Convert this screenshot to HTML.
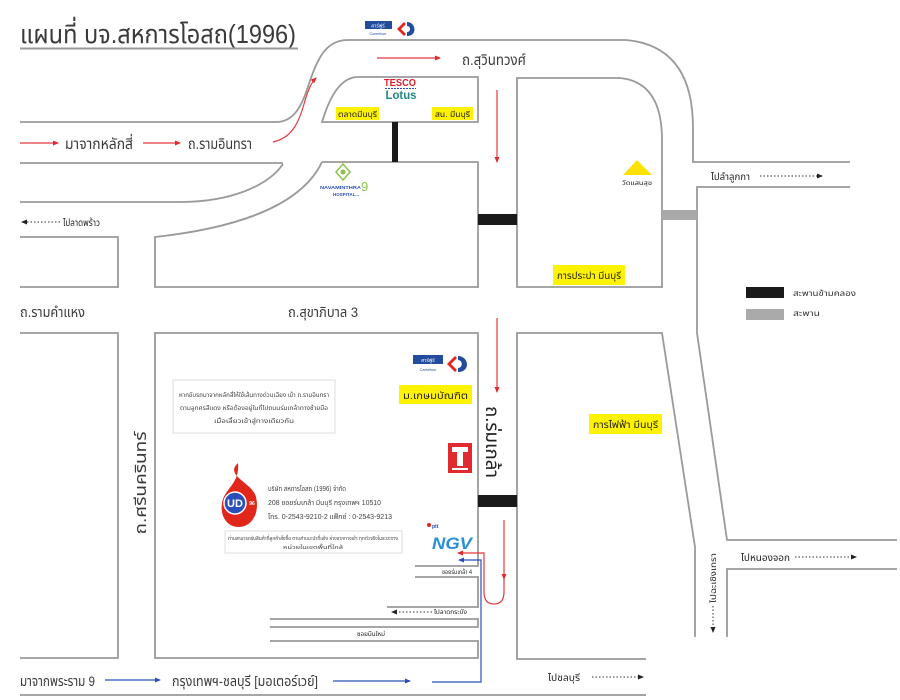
<!DOCTYPE html>
<html><head><meta charset="utf-8"><style>
html,body{margin:0;padding:0;background:#fff;}
svg{display:block;}
text{font-family:"Liberation Sans","DejaVu Sans","Noto Sans Thai","Loma","Garuda","Noto Sans CJK SC",sans-serif;}
</style></head><body>
<svg width="900" height="700" viewBox="0 0 900 700" xmlns="http://www.w3.org/2000/svg">
<defs>
<marker id="ar" markerWidth="6" markerHeight="6" refX="5" refY="3" orient="auto" markerUnits="userSpaceOnUse"><path d="M0,0.5 L6,3 L0,5.5Z" fill="#e5262f"/></marker>
<marker id="ab" markerWidth="6" markerHeight="6" refX="5" refY="3" orient="auto" markerUnits="userSpaceOnUse"><path d="M0,0.5 L6,3 L0,5.5Z" fill="#2b4fb8"/></marker>
<marker id="ak" markerWidth="6" markerHeight="6" refX="5" refY="3" orient="auto" markerUnits="userSpaceOnUse"><path d="M0,0.5 L6,3 L0,5.5Z" fill="#222"/></marker>
</defs>
<rect width="900" height="700" fill="#fff"/>

<!-- Title -->
<text x="20" y="43" font-size="26" fill="#3a3a3a" textLength="276" lengthAdjust="spacingAndGlyphs">แผนที่ บจ.สหการโอสถ(1996)</text>
<line x1="20" y1="48.5" x2="298" y2="48.5" stroke="#9a9a9a" stroke-width="2"/>

<g stroke="#9a9a9a" stroke-width="1.8" fill="none">
<path d="M20,122 L276,122 C298,122 304,98 311,78 C319,55 328,40 348,40 L626,40 Q693,46 693,128 L693,162 L850,162"/>
<path d="M322,122 C330,96 340,79 356,77 L478,77 L478,122 Z"/>
<path d="M517,287 L517,78 L620,78 Q662,82 662,140 L662,287 Z"/>
<path d="M850,187 L697,187 L697,333 L727,540 L897,540"/>
<path d="M897,569 L727,569 L727,637"/>
<path d="M646,659 L517,659 L517,333 L662,333 L695,547 L695,637"/>
<path d="M20,163 L283,163"/>
<path d="M20,202 L180,202 C230,202 268,186 283,164"/>
<path d="M322,162 L478,162 L478,287 L155,287 L155,237 C255,226 305,198 322,162"/>
<path d="M20,237 L118,237 L118,287 L20,287"/>
<path d="M20,333 L118,333 L118,658 L20,658"/>
<path d="M415,566 L478,566 L478,333 L155,333 L155,658 L478,658 L478,641 L270,641"/>
<path d="M415,577 L478,577 L478,607 L387,607"/>
<path d="M270,619 L478,619 L478,627 L270,627"/>
<path d="M20,695 L646,695"/>
</g>

<!-- bridges -->
<rect x="392" y="122" width="6" height="40" fill="#1a1a1a"/>
<rect x="478" y="214" width="39" height="11" fill="#1a1a1a"/>
<rect x="478" y="495" width="39" height="12" fill="#1a1a1a"/>
<rect x="662" y="210" width="35" height="10" fill="#a9a9a9"/>

<!-- legend -->
<rect x="746" y="287" width="38" height="11" fill="#1a1a1a"/>
<rect x="746" y="309" width="38" height="11" fill="#aaaaaa"/>
<text x="793" y="296" font-size="8" fill="#333" textLength="63" lengthAdjust="spacingAndGlyphs">สะพานข้ามคลอง</text>
<text x="793" y="316" font-size="8" fill="#333" textLength="27" lengthAdjust="spacingAndGlyphs">สะพาน</text>

<!-- red arrows -->
<g stroke="#e5383d" stroke-width="1.2" fill="none">
<line x1="20" y1="143" x2="58" y2="143" marker-end="url(#ar)"/>
<line x1="143" y1="143" x2="180" y2="143" marker-end="url(#ar)"/>
<path d="M273,142 C292,138 299,122 304,104 C308,90 311,83 316,78" marker-end="url(#ar)"/>
<line x1="377" y1="58" x2="440" y2="58" marker-end="url(#ar)"/>
<line x1="497" y1="90" x2="497" y2="162" marker-end="url(#ar)"/>
<line x1="497" y1="318" x2="497" y2="392" marker-end="url(#ar)"/>
<line x1="504" y1="520" x2="504" y2="579" marker-end="url(#ar)"/>
<path d="M504,579 L504,592 Q504,604 494,604 Q484,604 484,592 L484,553 L458,553" marker-end="url(#ar)"/>
</g>

<!-- blue route -->
<g stroke="#2b4fb8" stroke-width="1.2" fill="none">
<path d="M432,682 L481,682 L481,560 L459,560" marker-end="url(#ab)"/>
<line x1="105" y1="680" x2="160" y2="680" marker-end="url(#ab)"/>
<line x1="333" y1="681" x2="410" y2="681" marker-end="url(#ab)"/>
</g>

<!-- dotted black arrows -->
<g stroke="#333" stroke-width="1" stroke-dasharray="1.5,2" fill="none">
<line x1="60" y1="222" x2="22" y2="222" marker-end="url(#ak)"/>
<line x1="760" y1="176" x2="822" y2="176" marker-end="url(#ak)"/>
<line x1="795" y1="557" x2="856" y2="557" marker-end="url(#ak)"/>
<line x1="713" y1="606" x2="713" y2="632" marker-end="url(#ak)"/>
<line x1="432" y1="612" x2="392" y2="612" marker-end="url(#ak)"/>
<line x1="592" y1="677" x2="643" y2="677" marker-end="url(#ak)"/>
</g>

<!-- road labels -->
<g fill="#3a3a3a">
<text x="65" y="149" font-size="15" textLength="68" lengthAdjust="spacingAndGlyphs">มาจากหลักสี่</text>
<text x="188" y="149" font-size="15" textLength="64" lengthAdjust="spacingAndGlyphs">ถ.รามอินทรา</text>
<text x="462" y="65" font-size="15" textLength="64" lengthAdjust="spacingAndGlyphs">ถ.สุวินทวงศ์</text>
<text x="20" y="317" font-size="14" textLength="65" lengthAdjust="spacingAndGlyphs">ถ.รามคำแหง</text>
<text x="288" y="317" font-size="14" textLength="70" lengthAdjust="spacingAndGlyphs">ถ.สุขาภิบาล 3</text>
<text x="20" y="686" font-size="14" textLength="75" lengthAdjust="spacingAndGlyphs">มาจากพระราม 9</text>
<text x="172" y="686" font-size="14" textLength="146" lengthAdjust="spacingAndGlyphs">กรุงเทพฯ-ชลบุรี [มอเตอร์เวย์]</text>
<text transform="translate(146,483) rotate(-90)" text-anchor="middle" font-size="16" textLength="103" lengthAdjust="spacingAndGlyphs">ถ.ศรีนครินทร์</text>
<text transform="translate(486,442) rotate(90)" text-anchor="middle" font-size="19" fill="#222" textLength="72" lengthAdjust="spacingAndGlyphs">ถ.ร่มเกล้า</text>
</g>
<g fill="#222">
<text x="63" y="226" font-size="10" textLength="37" lengthAdjust="spacingAndGlyphs">ไปลาดพร้าว</text>
<text x="711" y="180" font-size="10" textLength="39" lengthAdjust="spacingAndGlyphs">ไปลำลูกกา</text>
<text x="741" y="561" font-size="10" textLength="49" lengthAdjust="spacingAndGlyphs">ไปหนองจอก</text>
<text x="548" y="681" font-size="10" textLength="32" lengthAdjust="spacingAndGlyphs">ไปชลบุรี</text>
<text transform="translate(716,578) rotate(-90)" text-anchor="middle" font-size="8" textLength="50" lengthAdjust="spacingAndGlyphs">ไปฉะเชิงเทรา</text>
<text x="434" y="614" font-size="6" textLength="33" lengthAdjust="spacingAndGlyphs">ไปลาดกระบัง</text>
<text x="442" y="574" font-size="6" textLength="30" lengthAdjust="spacingAndGlyphs">ซอยร่มเกล้า 4</text>
<text x="357" y="636" font-size="6" textLength="28" lengthAdjust="spacingAndGlyphs">ซอยมีนใหม่</text>
</g>

<!-- yellow labels -->
<rect x="336" y="107" width="43" height="13" fill="#fff200"/>
<text x="338" y="117" font-size="8" fill="#222" textLength="39" lengthAdjust="spacingAndGlyphs">ตลาดมีนบุรี</text>
<rect x="432" y="107" width="41" height="13" fill="#fff200"/>
<text x="435" y="117" font-size="8" fill="#222" textLength="35" lengthAdjust="spacingAndGlyphs">สน. มีนบุรี</text>
<rect x="553" y="265" width="72" height="20" fill="#fff200"/>
<text x="557" y="279" font-size="10" fill="#222" textLength="64" lengthAdjust="spacingAndGlyphs">การประปา มีนบุรี</text>
<rect x="399" y="385" width="73" height="19" fill="#fff200"/>
<text x="403" y="399" font-size="10" fill="#222" textLength="65" lengthAdjust="spacingAndGlyphs">ม.เกษมบัณฑิต</text>
<rect x="589" y="414" width="73" height="20" fill="#fff200"/>
<text x="593" y="428" font-size="10" fill="#222" textLength="65" lengthAdjust="spacingAndGlyphs">การไฟฟ้า มีนบุรี</text>

<!-- Carrefour top -->
<rect x="365" y="21" width="27" height="8" fill="#234c9c"/>
<text x="378" y="27.5" font-size="5" fill="#fff" text-anchor="middle">คาร์ฟูร์</text>
<text x="378" y="35" font-size="4" fill="#234c9c" text-anchor="middle">Carrefour</text>
<path d="M404,22 L397,29 L404,36 L406,34 L401,29 L406,24 Z" fill="#e1261c"/>
<path d="M407,22 C416,22 418,36 407,36 L407,32 C411,32 411,26 407,26 Z" fill="#234c9c"/>
<!-- Carrefour lower -->
<rect x="413" y="355" width="30" height="9" fill="#234c9c"/>
<text x="428" y="362" font-size="5" fill="#fff" text-anchor="middle">คาร์ฟูร์</text>
<text x="428" y="371" font-size="4" fill="#234c9c" text-anchor="middle">Carrefour</text>
<path d="M455,356 L447,364 L455,372 L457,370 L451,364 L457,358 Z" fill="#e1261c"/>
<path d="M458,356 C469,356 471,372 458,372 L458,368 C463,368 463,360 458,360 Z" fill="#234c9c"/>

<!-- Tesco Lotus -->
<text x="400" y="86" font-size="10" font-weight="bold" fill="#d8202a" text-anchor="middle" font-family="Liberation Serif, serif" textLength="32" lengthAdjust="spacingAndGlyphs">TESCO</text>
<line x1="385" y1="88.5" x2="416" y2="88.5" stroke="#2b4fb8" stroke-width="1" stroke-dasharray="2,1"/>
<text x="401" y="99" font-size="12" font-weight="bold" fill="#1f8a8a" text-anchor="middle" font-family="Liberation Serif, serif" textLength="31" lengthAdjust="spacingAndGlyphs">Lotus</text>

<!-- Navamindra -->
<path d="M343,164 L350,172 L343,180 L336,172 Z" fill="none" stroke="#8bc34a" stroke-width="1.5"/>
<circle cx="343" cy="172" r="2.5" fill="#8bc34a"/>
<text x="320" y="189" font-size="4.5" font-weight="bold" fill="#2b4fb8" textLength="41" lengthAdjust="spacingAndGlyphs">NAVAMINTHRA</text>
<text x="361" y="191" font-size="13" fill="#8bc34a">9</text>
<text x="333" y="196" font-size="4.5" font-weight="bold" fill="#2b4fb8">HOSPITAL...</text>

<!-- temple triangle -->
<polygon points="637,160 623,175 652,175" fill="#ffe100"/>
<text x="622" y="185" font-size="6" fill="#222" textLength="30" lengthAdjust="spacingAndGlyphs">วัดแสนสุข</text>

<!-- Isuzu -->
<rect x="448" y="443" width="24" height="30" fill="#e12a2f"/>
<path d="M452,447 L468,447 L468,452 L463,452 L463,466 L457,466 L457,452 L452,452 Z" fill="#fff"/>
<rect x="452" y="468" width="16" height="2" fill="#fff"/>

<!-- PTT NGV -->
<circle cx="429" cy="525" r="2" fill="#e1261c"/>
<text x="432" y="528" font-size="5" fill="#2b4fb8" font-weight="bold">ptt</text>
<text x="432" y="549" font-size="17" font-weight="bold" font-style="italic" fill="#2a8fd6" textLength="40" lengthAdjust="spacingAndGlyphs">NGV</text>

<!-- note box -->
<rect x="173" y="380" width="162" height="53" fill="#fff" stroke="#dddddd" stroke-width="1"/>
<g font-size="6" fill="#444" text-anchor="middle">
<text x="254" y="397" textLength="150" lengthAdjust="spacingAndGlyphs">หากขับรถมาจากหลักสี่ให้ใช้เส้นทางด่วนเฉียง เข้า ถ.รามอินทรา</text>
<text x="254" y="410" textLength="148" lengthAdjust="spacingAndGlyphs">ตามลูกศรสีแดง หรือต้องอยู่ในที่ไปถนนร่มเกล้าทางซ้ายมือ</text>
<text x="254" y="423" textLength="80" lengthAdjust="spacingAndGlyphs">เมื่อเลี้ยวเข้าสู่ทางเดียวกัน</text>
</g>

<!-- UD logo -->
<path d="M238,463 C224,476 252,482 256,497 C260,514 251,527 239,527 C226,527 220,515 222,503 C224,489 240,484 238,463 Z" fill="#e1261c"/>
<circle cx="235" cy="503" r="11" fill="#2b4fb8" stroke="#fff" stroke-width="1.5"/>
<text x="235" y="507" font-size="11" font-weight="bold" fill="#fff" text-anchor="middle" font-family="Liberation Serif, serif">UD</text>
<text x="252" y="505" font-size="5" fill="#fff" font-weight="bold" text-anchor="middle">96</text>

<!-- company text -->
<g font-size="7" fill="#444">
<text x="268" y="491" textLength="78" lengthAdjust="spacingAndGlyphs">บริษัท สหการโอสถ (1996) จำกัด</text>
<text x="268" y="505" textLength="113" lengthAdjust="spacingAndGlyphs">208 ซอยร่มเกล้า มีนบุรี กรุงเทพฯ 10510</text>
<text x="268" y="519" textLength="124" lengthAdjust="spacingAndGlyphs">โทร. 0-2543-9210-2 แฟ็กซ์ : 0-2543-9213</text>
</g>
<rect x="225" y="531" width="177" height="22" fill="#fff" stroke="#dddddd" stroke-width="1"/>
<g font-size="5.5" fill="#444" text-anchor="middle">
<text x="313" y="540" textLength="170" lengthAdjust="spacingAndGlyphs">ท่านสามารถรับสินค้าที่ลูกค้าสั่งซื้อ ตามคำแนะนำที่แจ้ง ห่างจากทางเข้า ทุกตัวจริงในระยะทาง</text>
<text x="313" y="549" textLength="60" lengthAdjust="spacingAndGlyphs">หน่วยในเขตพื้นที่ใกล้</text>
</g>
</svg>
</body></html>
